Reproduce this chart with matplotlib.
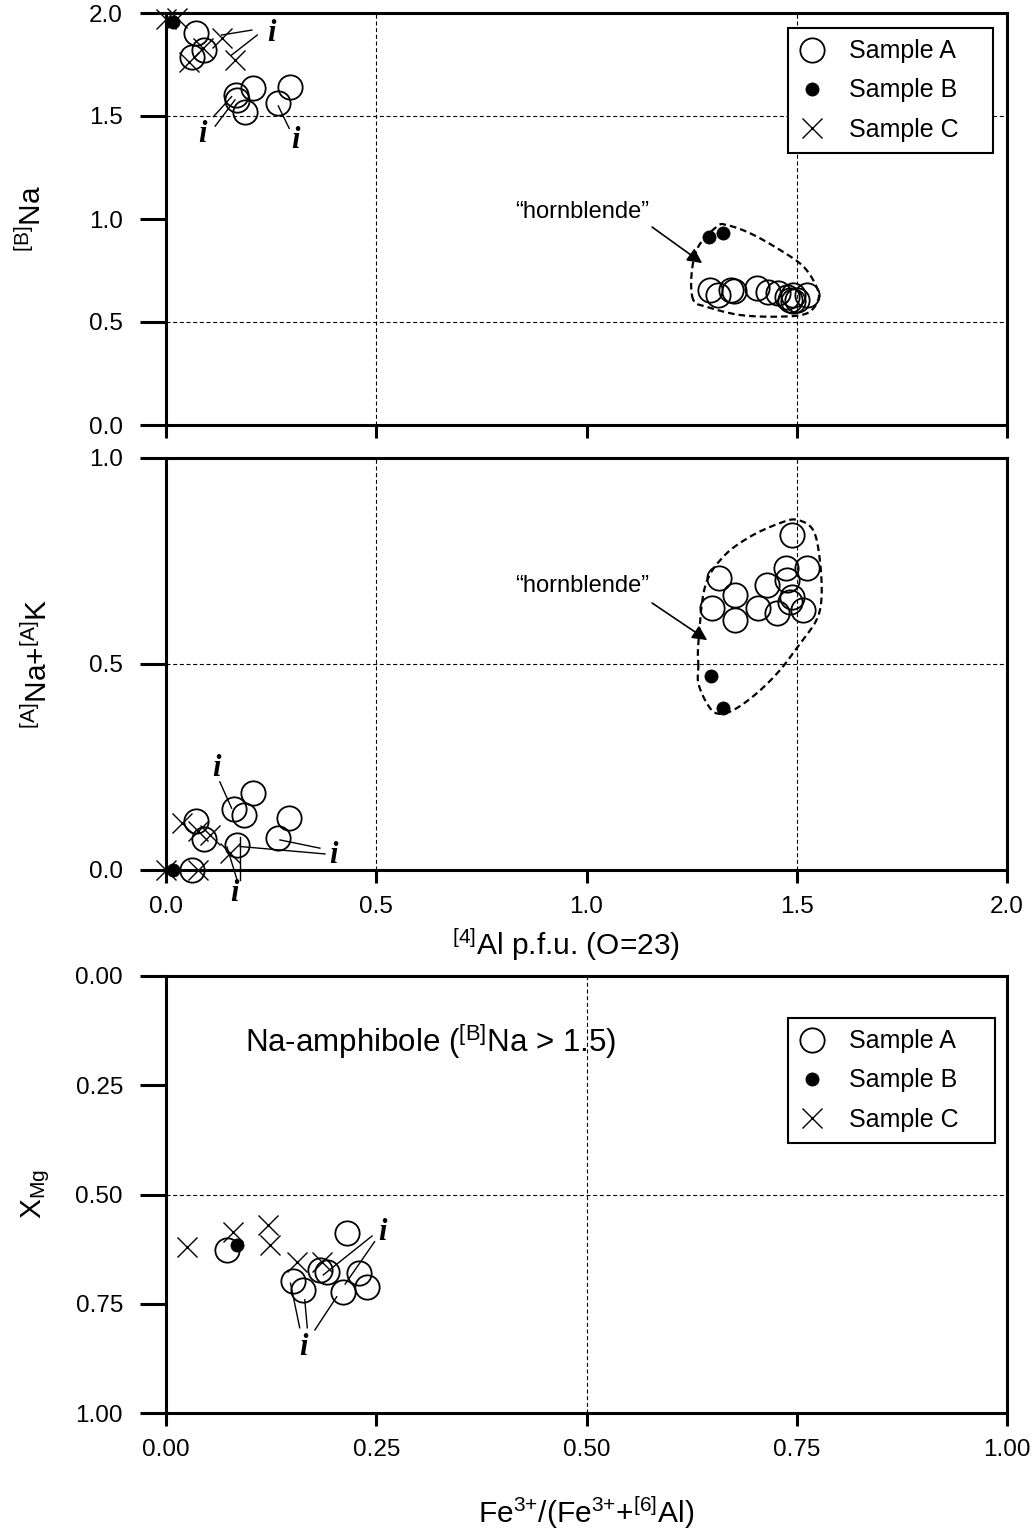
import matplotlib
matplotlib.use('Agg')
import matplotlib.pyplot as plt
import numpy as np
from matplotlib.lines import Line2D

plt.rcParams['font.family'] = ['Liberation Sans', 'DejaVu Sans']
plt.rcParams['mathtext.fontset'] = 'custom'
plt.rcParams['mathtext.rm'] = 'Liberation Sans'
plt.rcParams['mathtext.it'] = 'Liberation Sans:italic'
plt.rcParams['mathtext.bf'] = 'Liberation Sans:bold'

# ---------------- DATA ----------------
# Panel 1: [4]Al vs [B]Na
p1_A_al = [0.071, 0.062, 0.091, 0.166, 0.207, 0.188, 0.168, 0.266, 0.295,
           1.294, 1.313, 1.344, 1.350, 1.405, 1.432, 1.455, 1.476, 1.491, 1.484, 1.500, 1.524, 1.490]
p1_A_na = [1.903, 1.786, 1.820, 1.600, 1.636, 1.520, 1.578, 1.563, 1.640,
           0.655, 0.631, 0.655, 0.650, 0.665, 0.646, 0.640, 0.622, 0.631, 0.607, 0.607, 0.631, 0.600]
p1_B_al = [0.017, 1.292, 1.325]
p1_B_na = [1.956, 0.913, 0.932]
p1_C_al = [0.000, 0.025, 0.055, 0.088, 0.133, 0.164]
p1_C_na = [1.970, 1.975, 1.760, 1.830, 1.880, 1.770]

# Panel 2: [4]Al vs [A]Na+[A]K
p2_A_al = [0.207, 0.162, 0.186, 0.293, 0.266, 0.071, 0.091, 0.169, 0.062,
           1.489, 1.474, 1.524, 1.315, 1.429, 1.353, 1.477, 1.489, 1.298, 1.408, 1.453, 1.515, 1.353, 1.484]
p2_A_nak = [0.187, 0.148, 0.133, 0.126, 0.078, 0.119, 0.075, 0.061, 0.000,
            0.813, 0.733, 0.733, 0.709, 0.692, 0.667, 0.704, 0.663, 0.636, 0.636, 0.624, 0.631, 0.607, 0.650]
p2_B_al = [0.017, 1.296, 1.325]
p2_B_nak = [0.000, 0.471, 0.393]
p2_C_al = [0.000, 0.076, 0.038, 0.076, 0.105, 0.152]
p2_C_nak = [0.000, 0.000, 0.115, 0.095, 0.085, 0.042]

# Panel 3: Fe3+/(Fe3+ + [6]Al) vs XMg (Na-amphibole)
p3_A_fe = [0.073, 0.215, 0.151, 0.163, 0.183, 0.191, 0.211, 0.229, 0.239]
p3_A_xmg = [0.627, 0.589, 0.699, 0.718, 0.673, 0.677, 0.722, 0.680, 0.711]
p3_B_fe = [0.084]
p3_B_xmg = [0.616]
p3_C_fe = [0.025, 0.080, 0.121, 0.124, 0.156, 0.185]
p3_C_xmg = [0.620, 0.586, 0.570, 0.616, 0.654, 0.654]

series_labels = ['Sample A', 'Sample B', 'Sample C']
xticks_al = [0.0, 0.5, 1.0, 1.5, 2.0]
yticks_bna = [0.0, 0.5, 1.0, 1.5, 2.0]
yticks_nak = [0.0, 0.5, 1.0]
ticks_p3 = [0.0, 0.25, 0.5, 0.75, 1.0]

# hornblende field outlines (vertices, smoothed)
hb1_x = [1.254, 1.250, 1.266, 1.310, 1.333, 1.389, 1.460, 1.516, 1.547, 1.551, 1.524, 1.460, 1.365, 1.286]
hb1_y = [0.607, 0.736, 0.866, 0.963, 0.971, 0.931, 0.850, 0.769, 0.671, 0.607, 0.542, 0.526, 0.534, 0.574]
hb2_x = [1.266, 1.266, 1.282, 1.325, 1.389, 1.460, 1.500, 1.539, 1.555, 1.559, 1.547, 1.508, 1.460,
         1.405, 1.349, 1.310, 1.286, 1.266]
hb2_y = [0.494, 0.550, 0.688, 0.760, 0.809, 0.842, 0.850, 0.825, 0.752, 0.663, 0.607, 0.550, 0.485,
         0.429, 0.388, 0.380, 0.405, 0.453]

# "i" annotations: (label x, y, [(x0, y0, x1, y1), ...])
p1_i = [(0.251, 1.901, [(0.204, 1.917, 0.132, 1.893), (0.217, 1.893, 0.156, 1.796)]),
        (0.087, 1.408, [(0.113, 1.497, 0.156, 1.594), (0.117, 1.451, 0.164, 1.578)]),
        (0.307, 1.383, [(0.293, 1.440, 0.267, 1.549)])]
p2_i = [(0.121, 0.247, [(0.128, 0.214, 0.156, 0.150)]),
        (0.398, 0.036, [(0.366, 0.053, 0.271, 0.073), (0.378, 0.039, 0.176, 0.057)]),
        (0.164, -0.057, [(0.169, -0.024, 0.145, 0.056), (0.176, -0.024, 0.176, 0.080)])]
p3_i = [(0.257, 0.588, [(0.245, 0.595, 0.187, 0.684), (0.248, 0.608, 0.213, 0.705)]),
        (0.164, 0.849, [(0.159, 0.805, 0.148, 0.703), (0.168, 0.805, 0.165, 0.741),
                        (0.177, 0.810, 0.203, 0.734)])]

# ---------------- STYLE ----------------
W, H = 1035, 1532
fig = plt.figure(figsize=(W / 100, H / 100), dpi=100)
L = 166 / W
AW = 841 / W
ax1 = fig.add_axes([L, 1 - 425 / H, AW, 412 / H])
ax2 = fig.add_axes([L, 1 - 870 / H, AW, 412 / H])
ax3 = fig.add_axes([L, 1 - 1413 / H, AW, 437 / H])

circ = dict(ls='none', marker='o', ms=17.5, mfc='none', mec='k', mew=1.3, clip_on=False, zorder=4)
dot = dict(ls='none', marker='o', ms=9.5, mfc='k', mec='k', mew=0.5, clip_on=False, zorder=5)
crs = dict(ls='none', marker='x', ms=14, mec='k', mew=1.0, clip_on=False, zorder=4)
grid_kw = dict(color='k', lw=0.8, ls=(0, (3.6, 2.4)), zorder=1)
outline_kw = dict(color='k', lw=1.6, ls=(0, (3, 1.8)), zorder=3)
ifont = dict(family='Liberation Serif', style='italic', weight='bold', fontsize=22)
LABEL_FS = 21.5
TICK_FS = 17.5


def smooth_closed(xs, ys, n=24):
    P = np.column_stack([xs, ys])
    N = len(P)
    out = []
    for i in range(N):
        p0, p1, p2, p3 = P[(i - 1) % N], P[i], P[(i + 1) % N], P[(i + 2) % N]
        for t in np.linspace(0, 1, n, endpoint=False):
            t2, t3 = t * t, t * t * t
            out.append(0.5 * (2 * p1 + (-p0 + p2) * t + (2 * p0 - 5 * p1 + 4 * p2 - p3) * t2
                              + (-p0 + 3 * p1 - 3 * p2 + p3) * t3))
    out.append(out[0])
    return np.array(out)


def style_axes(ax):
    for s in ax.spines.values():
        s.set_linewidth(2.2)
    ax.tick_params(axis='y', direction='out', length=19, width=2.2, labelsize=TICK_FS, pad=12)
    ax.tick_params(axis='x', direction='out', length=9.5, width=2.2, labelsize=TICK_FS, pad=9)


def draw_i(ax, items):
    for tx, ty, segs in items:
        ax.text(tx, ty, 'i', ha='center', va='center', clip_on=False, zorder=6, **ifont)
        for x0, y0, x1, y1 in segs:
            ax.plot([x0, x1], [y0, y1], color='k', lw=1.0, clip_on=False, zorder=6)


def legend(ax, box):
    strip = lambda d: {k: v for k, v in d.items() if k not in ('clip_on', 'zorder')}
    handles = [Line2D([], [], **strip(circ)), Line2D([], [], **strip(dot)),
               Line2D([], [], **strip(crs))]
    lg = ax.legend(handles, series_labels, loc='upper right', bbox_to_anchor=box, mode='expand',
                   borderaxespad=0, fontsize=18, frameon=True, fancybox=False, framealpha=1,
                   edgecolor='k', borderpad=0.45, handlelength=1.02, handletextpad=0.97,
                   labelspacing=0.61)
    lg.get_frame().set_linewidth(1.5)
    lg.set_zorder(10)


def set_ylabel(ax, text, xpos):
    ax.set_ylabel(text, fontsize=LABEL_FS, va='center')
    ax.yaxis.set_label_coords(xpos, 0.5)


def set_xlabel(ax, text, xpos, ypos):
    ax.set_xlabel(text, fontsize=LABEL_FS, va='center')
    ax.xaxis.set_label_coords(xpos, ypos)


# ---------------- PANEL 1 ----------------
ax = ax1
style_axes(ax)
ax.set_xlim(0, 2.0)
ax.set_ylim(0, 2.0)
ax.set_xticks(xticks_al)
ax.set_yticks(yticks_bna)
ax.set_yticklabels([f'{v:.1f}' for v in yticks_bna])
ax.tick_params(axis='x', labelbottom=False)
for v in (0.5, 1.5):
    ax.axvline(v, **grid_kw)
    ax.axhline(v, **grid_kw)
ax.plot(p1_A_al, p1_A_na, **circ)
ax.plot(p1_B_al, p1_B_na, **dot)
ax.plot(p1_C_al, p1_C_na, **crs)
c = smooth_closed(hb1_x, hb1_y)
ax.plot(c[:, 0], c[:, 1], **outline_kw)
ax.text(0.989, 1.034, '\u201chornblende\u201d', ha='center', va='center', fontsize=17)
ax.annotate('', xy=(1.275, 0.786), xytext=(1.156, 0.961),
            arrowprops=dict(arrowstyle='-|>', color='k', lw=1.2, mutation_scale=22,
                            shrinkA=0, shrinkB=0))
draw_i(ax, p1_i)
set_ylabel(ax, r'$^{\mathrm{[B]}}$Na', -0.160)
legend(ax, ((788 - 166) / 841, 1 - (152 - 13) / 412, 205 / 841, 124 / 412))

# ---------------- PANEL 2 ----------------
ax = ax2
style_axes(ax)
ax.set_xlim(0, 2.0)
ax.set_ylim(0, 1.0)
ax.set_xticks(xticks_al)
ax.set_xticklabels([f'{v:.1f}' for v in xticks_al])
ax.set_yticks(yticks_nak)
ax.set_yticklabels([f'{v:.1f}' for v in yticks_nak])
for v in (0.5, 1.5):
    ax.axvline(v, **grid_kw)
ax.axhline(0.5, **grid_kw)
ax.plot(p2_A_al, p2_A_nak, **circ)
ax.plot(p2_B_al, p2_B_nak, **dot)
ax.plot(p2_C_al, p2_C_nak, **crs)
c = smooth_closed(hb2_x, hb2_y)
ax.plot(c[:, 0], c[:, 1], **outline_kw)
ax.text(0.989, 0.689, '\u201chornblende\u201d', ha='center', va='center', fontsize=17)
ax.annotate('', xy=(1.287, 0.558), xytext=(1.156, 0.648),
            arrowprops=dict(arrowstyle='-|>', color='k', lw=1.2, mutation_scale=22,
                            shrinkA=0, shrinkB=0))
draw_i(ax, p2_i)
set_ylabel(ax, r'$^{\mathrm{[A]}}$Na+$^{\mathrm{[A]}}$K', -0.152)
set_xlabel(ax, r'$^{\mathrm{[4]}}$Al p.f.u. (O=23)', (566 - 166) / 841, (870 - 945) / 412)

# ---------------- PANEL 3 ----------------
ax = ax3
style_axes(ax)
ax.set_xlim(0, 1.0)
ax.set_ylim(1.0, 0)
ax.set_xticks(ticks_p3)
ax.set_xticklabels([f'{v:.2f}' for v in ticks_p3])
ax.set_yticks(ticks_p3)
ax.set_yticklabels([f'{v:.2f}' for v in ticks_p3])
ax.axvline(0.5, **grid_kw)
ax.axhline(0.5, **grid_kw)
ax.plot(p3_A_fe, p3_A_xmg, **circ)
ax.plot(p3_B_fe, p3_B_xmg, **dot)
ax.plot(p3_C_fe, p3_C_xmg, **crs)
draw_i(ax, p3_i)
ax.text(0.094, 0.849, r'Na-amphibole ($^{\mathrm{[B]}}$Na > 1.5)', transform=ax.transAxes,
        ha='left', va='center', fontsize=22.5)
set_ylabel(ax, r'X$_{\mathrm{Mg}}$', -0.155)
set_xlabel(ax, r'Fe$^{3{+}}$/(Fe$^{3{+}}$+$^{\mathrm{[6]}}$Al)', 0.5, (1413 - 1513) / 437)
legend(ax, ((788 - 166) / 841, 1 - (1139 - 976) / 437, 207 / 841, 121 / 437))

fig.savefig('out.png', dpi=100)
